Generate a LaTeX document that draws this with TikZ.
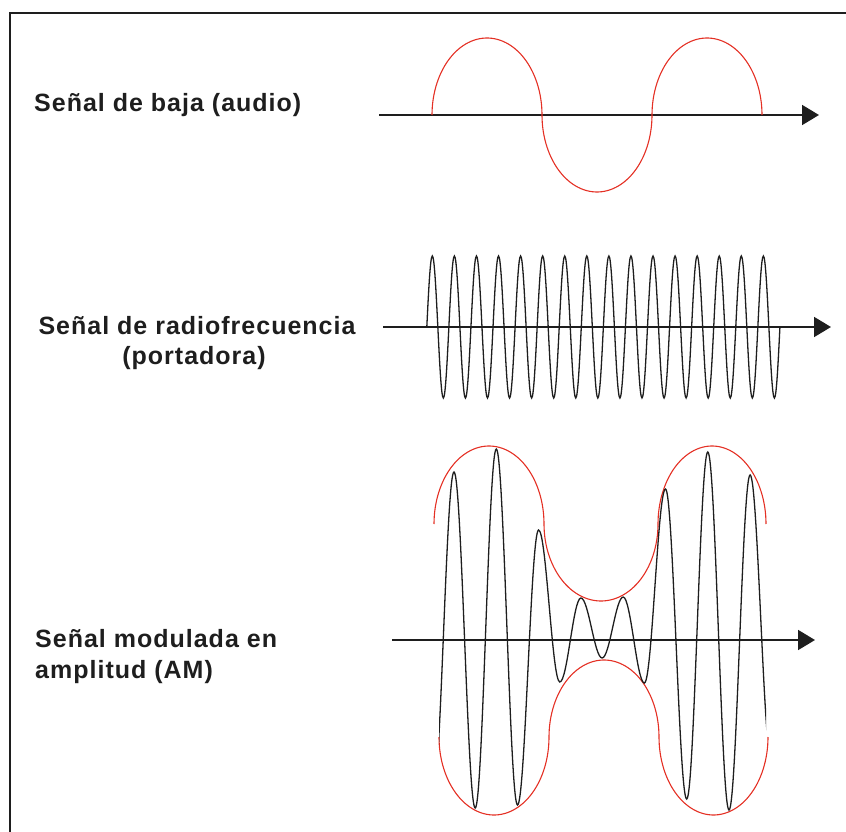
\documentclass[tikz,border=0pt]{standalone}
\usepackage{fontspec}
\newfontfamily\lblfont[LetterSpace=4]{Liberation Sans}
\usetikzlibrary{arrows.meta}
\definecolor{wavered}{RGB}{228,48,36}
\definecolor{ink}{RGB}{30,30,30}
\begin{document}
\begin{tikzpicture}[x=1pt, y=-1pt,
  frameline/.style={line width=2pt, draw=ink},
  axisarrow/.style={line width=1.8pt, draw=ink, -{Triangle[length=17pt,width=20pt]}},
  redwave/.style={line width=1.1pt, draw=wavered},
  blackwave/.style={line width=1.3pt, draw=ink},
  lbl/.style={font=\lblfont\bfseries\fontsize{25}{30}\selectfont, inner sep=0pt, text=ink}]
\useasboundingbox (0,0) rectangle (846,832);
% frame
\draw[frameline] (10,832) -- (10,13.5) -- (846,13.5);

% labels
\node[lbl, anchor=base west] (lab1) at (34,112) {Señal de baja (audio)};
\node[lbl, anchor=base] (lab2a) at (197,334) {Señal de radiofrecuencia};
\node[lbl, anchor=base] (lab2b) at (194,364) {(portadora)};
\node[lbl, anchor=base west] (lab3a) at (35,647) {Señal modulada en};
\node[lbl, anchor=base west] (lab3b) at (35,678) {amplitud (AM)};

% audio signal
\coordinate (a0) at (379,115);
\coordinate (a1) at (819,115);
\draw[axisarrow] (a0) -- (a1);
\draw[redwave] plot[domain=180:360, samples=60] ({487+55*cos(\x)},{115+77*sin(\x)})
  -- plot[domain=0:180, samples=60] ({597-55*cos(\x)},{115+77*sin(\x)})
  -- plot[domain=180:360, samples=60] ({707+55*cos(\x)},{115+77*sin(\x)});

% carrier
\coordinate (c0) at (383,327);
\coordinate (c1) at (831,327);
\draw[axisarrow] (c0) -- (c1);
\draw[blackwave] (426.8,327) foreach \i in {0,...,15} {
  sin ({426.8+22.07*\i+5.52},256) cos ({426.8+22.07*\i+11.03},327)
  sin ({426.8+22.07*\i+16.55},398) cos ({426.8+22.07*(\i+1)},327) };

% AM signal
\coordinate (m0) at (392,640);
\coordinate (m1) at (815,640);
\draw[axisarrow] (m0) -- (m1);
\draw[redwave] plot[domain=180:360, samples=60] ({489+55*cos(\x)},{524+78*sin(\x)})
  -- plot[domain=0:180, samples=60] ({601-57*cos(\x)},{524+77*sin(\x)})
  -- plot[domain=180:360, samples=60] ({712+54*cos(\x)},{524+78*sin(\x)});
\draw[redwave] plot[domain=0:180, samples=60] ({494-55*cos(\x)},{737+78*sin(\x)})
  -- plot[domain=180:360, samples=60] ({604+55*cos(\x)},{737+77*sin(\x)})
  -- plot[domain=0:180, samples=60] ({713.5-54.5*cos(\x)},{737+78*sin(\x)});
\begin{scope}
  \clip (439,400) rectangle (766,850);
  \draw[blackwave] (433,795) foreach \px/\py in {454/472, 475.2/808, 496.3/449, 517.5/805,
      538.6/530, 559.8/682, 580.9/598, 602.1/658, 623.2/597, 644.4/683, 665.5/489,
      686.7/799, 707.8/452, 729.0/810, 750.1/475, 771.3/760} {
    .. controls +(7.69,0) and +(-7.69,0) .. (\px,\py) };
\end{scope}
\end{tikzpicture}
\end{document}
